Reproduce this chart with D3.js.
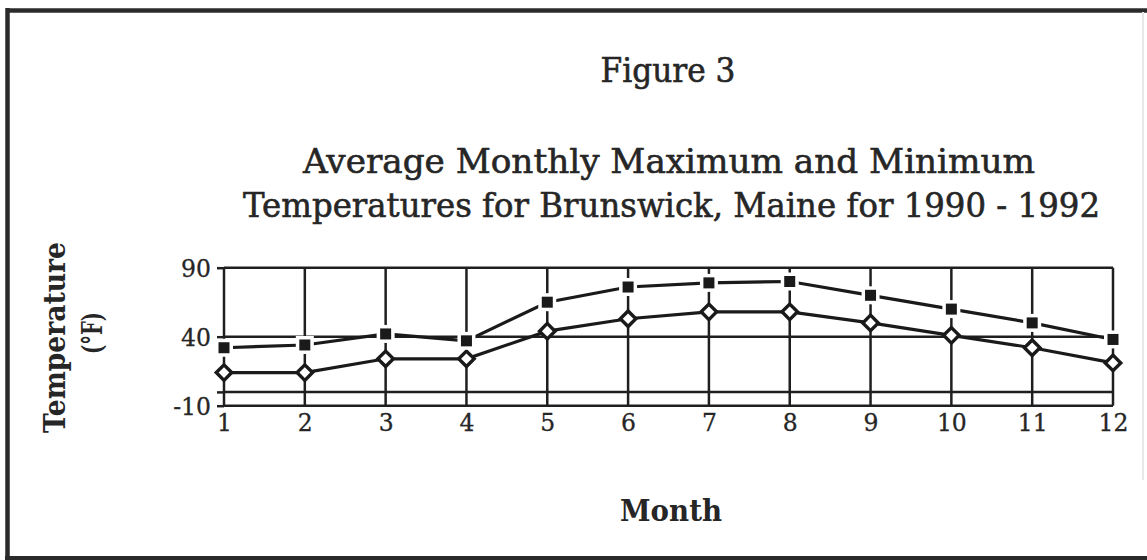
<!DOCTYPE html>
<html>
<head>
<meta charset="utf-8">
<script src="https://cdn.jsdelivr.net/npm/d3@7"></script>
<style>
  html, body { margin: 0; padding: 0; background: #fff; }
  svg { display: block; }
</style>
</head>
<body>
<svg id="chart" width="1147" height="560"></svg>
<script>
// ---- data ----
const months = [1, 2, 3, 4, 5, 6, 7, 8, 9, 10, 11, 12];
const maxTemps = [32, 34, 42, 37, 65, 76, 79, 80, 70, 60, 50, 38];
const minTemps = [14, 14, 24, 24, 44, 53, 58, 58, 50, 41, 32, 21];
const yTickValues = [90, 40, 0, -10];
const yTickLabels = ["90", "40", "", "-10"];
const xTickLabels = ["1","2","3","4","5","6","7","8","9","10","11","12"];
const figureLabel = "Figure 3";
const titleLines = ["Average Monthly Maximum and Minimum",
                    "Temperatures for Brunswick, Maine for 1990 - 1992"];
const yLabelLines = ["Temperature", "(°F)"];
const xLabel = "Month";

// ---- setup ----
const svg = d3.select("#chart");
const ink = "#262626";
const serif = "'DejaVu Serif', 'Liberation Serif', serif";

const x = d3.scaleLinear().domain([1, 12]).range([224, 1113]);
const y = d3.scaleLinear().domain([-10, 90]).range([405.7, 267.7]);

function fit(sel, w) {
  sel.attr("textLength", w).attr("lengthAdjust", "spacingAndGlyphs");
  return sel;
}
function heavy(sel, sw) {
  return sel.attr("stroke", ink).attr("stroke-width", sw).attr("paint-order", "stroke");
}

// ---- outer frame ----
svg.append("line").attr("x1", 7).attr("x2", 1147).attr("y1", 10.5).attr("y2", 10.5)
  .attr("stroke", "#2b2b2b").attr("stroke-width", 4.5);
svg.append("line").attr("x1", 7.5).attr("x2", 7.5).attr("y1", 8).attr("y2", 560)
  .attr("stroke", "#2b2b2b").attr("stroke-width", 4.5);
svg.append("line").attr("x1", 5).attr("x2", 1147).attr("y1", 558).attr("y2", 558)
  .attr("stroke", "#2b2b2b").attr("stroke-width", 4);
svg.append("line").attr("x1", 1143).attr("x2", 1143).attr("y1", 12).attr("y2", 480)
  .attr("stroke", "#e8e8e8").attr("stroke-width", 2);

// ---- titles ----
heavy(fit(svg.append("text").attr("x", 668).attr("y", 82)
  .attr("text-anchor", "middle").attr("font-family", serif)
  .attr("font-size", 34).attr("fill", ink).text(figureLabel), 135), 0.6);

const tl = [[173, 732, 669], [216.7, 857, 671.5]];
titleLines.forEach((t, i) => {
  heavy(fit(svg.append("text").attr("x", tl[i][2]).attr("y", tl[i][0])
    .attr("text-anchor", "middle").attr("font-family", serif)
    .attr("font-size", 34).attr("fill", ink).text(t), tl[i][1]), 0.6);
});

// ---- axis labels ----
fit(svg.append("text")
  .attr("transform", "translate(65,337.5) rotate(-90)")
  .attr("text-anchor", "middle").attr("font-family", serif)
  .attr("font-weight", "bold").attr("font-size", 29).attr("fill", ink)
  .text(yLabelLines[0]), 191);
fit(svg.append("text")
  .attr("transform", "translate(102,333) rotate(-90)")
  .attr("text-anchor", "middle").attr("font-family", serif)
  .attr("font-weight", "bold").attr("font-size", 28).attr("fill", ink)
  .text(yLabelLines[1]), 42);
fit(svg.append("text").attr("x", 671).attr("y", 521)
  .attr("text-anchor", "middle").attr("font-family", serif)
  .attr("font-weight", "bold").attr("font-size", 29).attr("fill", ink)
  .text(xLabel), 102);

// ---- grid ----
const grid = svg.append("g").attr("stroke", "#1f1f1f").attr("stroke-width", 2.5);
grid.selectAll("line.h").data(yTickValues).join("line")
  .attr("class", "h")
  .attr("x1", x(1)).attr("x2", x(12))
  .attr("y1", d => y(d)).attr("y2", d => y(d));
grid.selectAll("line.v").data(months).join("line")
  .attr("class", "v")
  .attr("x1", d => x(d)).attr("x2", d => x(d))
  .attr("y1", y(90)).attr("y2", y(-10));

// ---- y axis ----
const yAxis = d3.axisLeft(y).tickValues(yTickValues)
  .tickFormat((d, i) => yTickLabels[i]).tickSize(7).tickPadding(6);
const ya = svg.append("g").attr("transform", `translate(${x(1)},0)`).call(yAxis);
ya.select(".domain").remove();
ya.selectAll(".tick line").attr("stroke", "#1f1f1f").attr("stroke-width", 2.5);
ya.selectAll(".tick text").attr("font-family", serif).attr("font-size", 23.5)
  .attr("fill", ink).attr("dy", "0.36em")
  .attr("stroke", ink).attr("stroke-width", 0.3);

// ---- x axis ----
const xAxis = d3.axisBottom(x).tickValues(months)
  .tickFormat((d, i) => xTickLabels[i]).tickSize(0).tickPadding(9);
const xa = svg.append("g").attr("transform", `translate(0,${y(-10)})`).call(xAxis);
xa.select(".domain").remove();
xa.selectAll(".tick text").attr("font-family", serif).attr("font-size", 23.5)
  .attr("fill", ink).attr("stroke", ink).attr("stroke-width", 0.3);

// ---- series lines ----
const line = d3.line().x((d, i) => x(months[i])).y(d => y(d));
svg.append("path").datum(maxTemps).attr("d", line)
  .attr("fill", "none").attr("stroke", "#1a1a1a").attr("stroke-width", 3.2);
svg.append("path").datum(minTemps).attr("d", line)
  .attr("fill", "none").attr("stroke", "#1a1a1a").attr("stroke-width", 3.2);

// ---- markers ----
const diamond = d3.symbol().type(d3.symbolSquare).size(120);
svg.selectAll("path.dmin").data(minTemps).join("path")
  .attr("class", "dmin")
  .attr("d", diamond)
  .attr("transform", (d, i) => `translate(${x(months[i])},${y(d)}) rotate(45)`)
  .attr("fill", "#fff").attr("stroke", "#1a1a1a").attr("stroke-width", 3.4);

svg.selectAll("rect.smax").data(maxTemps).join("rect")
  .attr("class", "smax")
  .attr("x", (d, i) => x(months[i]) - 5.5).attr("y", d => y(d) - 5.5)
  .attr("width", 11).attr("height", 11)
  .attr("fill", "#1a1a1a").attr("stroke", "#fff").attr("stroke-width", 7)
  .attr("paint-order", "stroke");
</script>
</body>
</html>
